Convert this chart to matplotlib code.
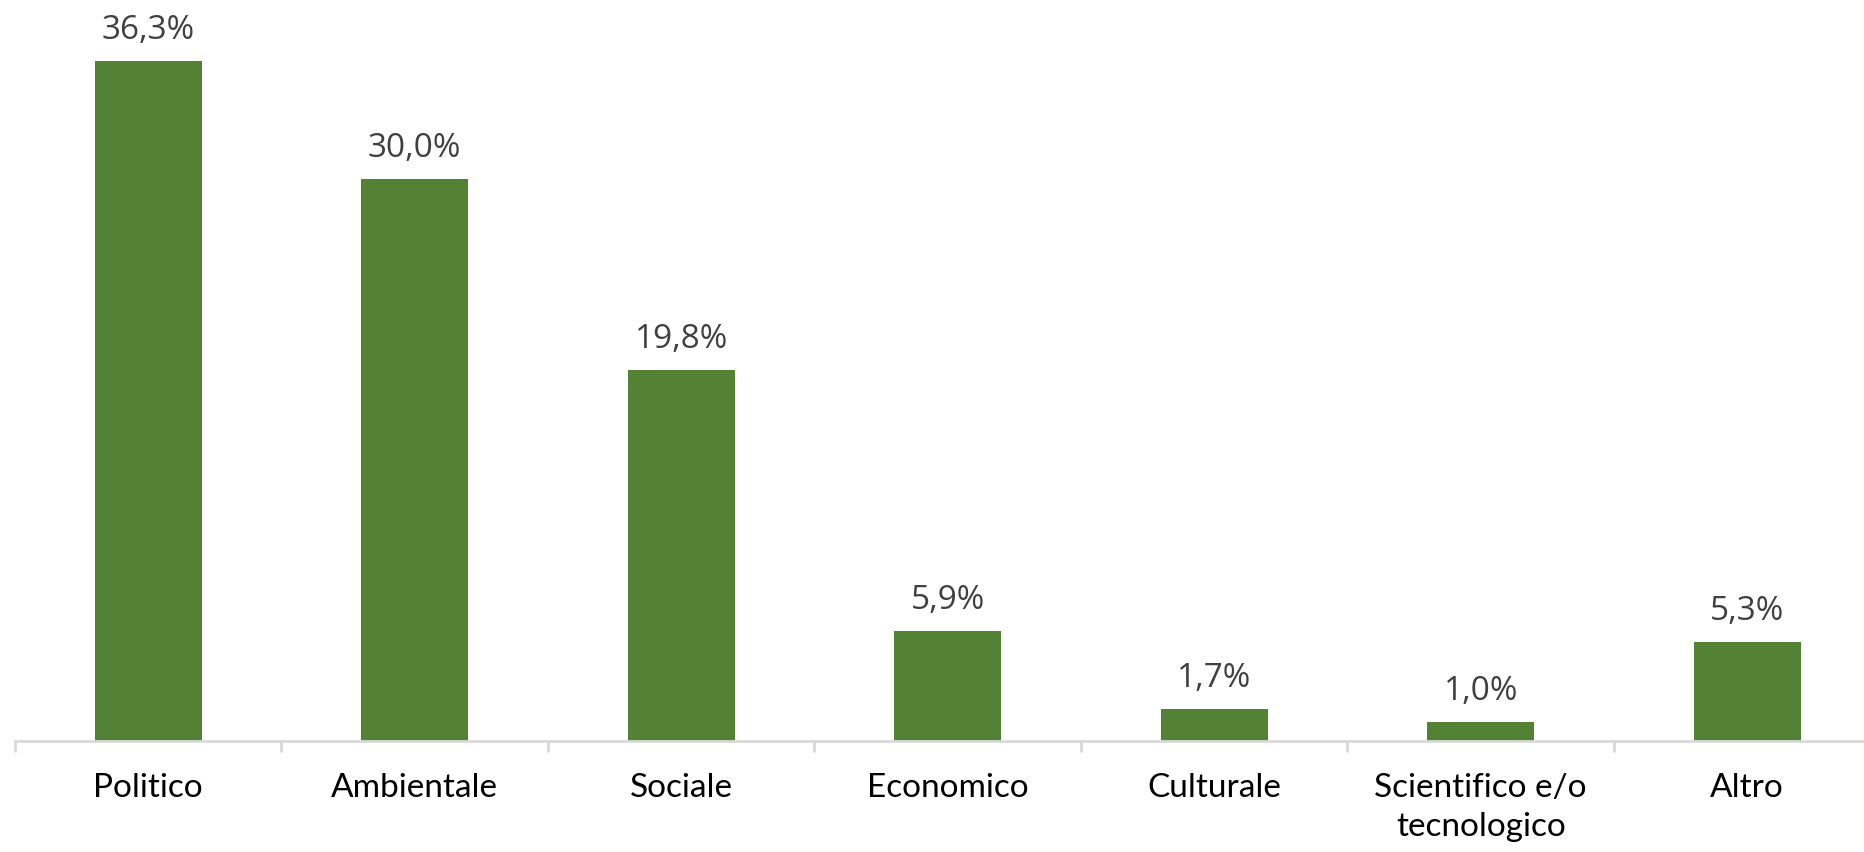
import numpy as np
import matplotlib
matplotlib.use("Agg")
from matplotlib import pyplot as plt

# categorie e percentuali
categorie = ['Politico', 'Ambientale', 'Sociale', 'Economico', 'Culturale',
             'Scientifico e/o\ntecnologico', 'Altro']
valori = [36.3, 30.0, 19.8, 5.9, 1.7, 1.0, 5.3]
etichette = ['36,3%', '30,0%', '19,8%', '5,9%', '1,7%', '1,0%', '5,3%']

verde = '#548235'
grigio = '#d9d9d9'

fig = plt.figure(figsize=(18.65, 8.53), dpi=100)
# axes leggermente oltre il bordo destro, come nell'originale
ax = fig.add_axes([15 / 1865, 111 / 853, 1865.5 / 1865, 742 / 853])

x = np.arange(len(categorie))
ax.bar(x, valori, width=0.4, color=verde, zorder=2)

ax.set_xlim(-0.5, len(categorie) - 0.5)
ax.set_ylim(0, 39.62)

for xi, v, lab in zip(x, valori, etichette):
    ax.annotate(lab, (xi, v), xytext=(0, 16.5), textcoords='offset points',
                ha='center', va='baseline', fontsize=24, color='#404040',
                family='Open Sans')

for s in ['top', 'right', 'left']:
    ax.spines[s].set_visible(False)
ax.spines['bottom'].set_color(grigio)
ax.spines['bottom'].set_linewidth(2)
ax.set_yticks([])

ax.set_xticks(x)
ax.set_xticklabels(categorie, fontsize=24, family='Lato', color='#000000',
                   linespacing=1.4)
ax.tick_params(axis='x', which='major', length=0, pad=22)
ax.set_xticks(np.arange(len(categorie) + 1) - 0.5, minor=True)
ax.tick_params(axis='x', which='minor', length=8, width=2, color=grigio)

fig.savefig('out.png', dpi=100)
